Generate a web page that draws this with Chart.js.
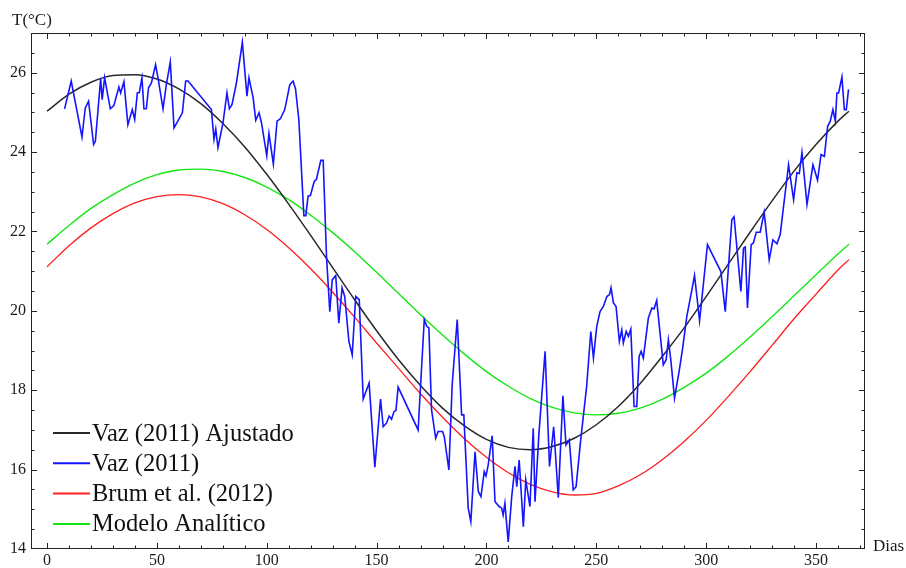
<!DOCTYPE html>
<html>
<head>
<meta charset="utf-8">
<script src="https://cdn.jsdelivr.net/npm/chart.js@4.4.1/dist/chart.umd.min.js"></script>
<style>
  html, body { margin: 0; padding: 0; background: #fff; }
  #wrap { width: 906px; height: 568px; }
</style>
</head>
<body>
<div id="wrap"><canvas id="myChart"></canvas></div>
<script>
// eixos
const xTickValues = [0, 50, 100, 150, 200, 250, 300, 350];
const yTickValues = [14, 16, 18, 20, 22, 24, 26];

// curvas suaves (lidas a cada 10 dias)
const fitDays = [0, 10, 20, 30, 40, 50, 60, 70, 80, 90, 100, 110, 120, 130, 140, 150, 160, 170, 180,
	190, 200, 210, 220, 230, 240, 250, 260, 270, 280, 290, 300, 310, 320, 330, 340, 350, 360, 365];
const ajustadoTemps = [25.03, 25.46, 25.76, 25.93, 25.95, 25.84, 25.59, 25.22, 24.72, 24.13, 23.44, 22.69,
	21.90, 21.09, 20.28, 19.50, 18.77, 18.12, 17.55, 17.10, 16.76, 16.56, 16.50, 16.58, 16.79, 17.13,
	17.59, 18.17, 18.85, 19.57, 20.36, 21.17, 21.98, 22.77, 23.52, 24.19, 24.78, 25.03];
const brumTemps = [21.11, 21.64, 22.09, 22.45, 22.72, 22.88, 22.93, 22.87, 22.70, 22.42, 22.05, 21.59,
	21.06, 20.47, 19.84, 19.19, 18.55, 17.91, 17.32, 16.78, 16.31, 15.92, 15.63, 15.44, 15.36, 15.40,
	15.59, 15.87, 16.25, 16.71, 17.24, 17.84, 18.47, 19.13, 19.80, 20.42, 21.03, 21.29];
const modeloTemps = [21.68, 22.15, 22.58, 22.93, 23.22, 23.43, 23.55, 23.57, 23.51, 23.36, 23.12, 22.80,
	22.41, 21.97, 21.49, 20.97, 20.44, 19.90, 19.39, 18.91, 18.47, 18.10, 17.79, 17.57, 17.43, 17.38,
	17.42, 17.55, 17.77, 18.07, 18.43, 18.86, 19.34, 19.85, 20.38, 20.91, 21.43, 21.68];

// dados medidos Vaz (2011)
const vazDays = [8.0, 11.0, 15.9, 17.4, 18.9, 21.2, 22.0, 24.4, 25.1, 26.2, 28.8, 30.4, 32.7, 33.5, 35.0,
	36.8, 38.8, 39.9, 41.1, 42.0, 43.2, 44.1, 45.2, 46.2, 47.5, 49.4, 50.5, 52.8, 54.3, 56.1, 57.8, 61.6,
	63.1, 64.2, 74.8, 76.0, 76.8, 77.8, 80.1, 81.9, 83.0, 84.2, 86.2, 88.9, 91.0, 91.9, 93.8, 95.0, 96.5,
	97.6, 100.0, 101.0, 103.0, 104.7, 106.2, 108.2, 110.5, 112.0, 113.1, 114.6, 116.9, 117.8, 118.8, 119.9,
	121.6, 122.6, 124.6, 125.7, 127.2, 128.7, 129.8, 131.4, 132.8, 134.3, 135.5, 137.4, 138.9, 140.5, 142.1,
	143.9, 146.6, 149.2, 151.8, 153.0, 154.5, 155.7, 156.8, 157.9, 158.8, 159.8, 168.9, 171.7, 172.8, 173.8,
	175.0, 176.9, 178.0, 180.0, 180.8, 182.9, 184.4, 186.7, 188.7, 189.7, 191.7, 192.9, 194.8, 196.3, 197.5,
	199.0, 199.8, 200.8, 202.6, 203.9, 205.8, 206.9, 207.6, 208.4, 209.9, 211.5, 213.0, 213.8, 214.9, 216.8,
	217.9, 219.8, 221.3, 222.1, 223.9, 226.7, 228.7, 230.6, 232.7, 234.8, 236.2, 237.7, 239.5, 240.8, 242.9,
	245.6, 247.5, 248.7, 250.2, 251.7, 253.2, 254.8, 256.0, 256.7, 257.8, 259.0, 260.5, 261.6, 262.3, 263.6,
	264.6, 265.7, 267.2, 268.4, 269.5, 270.4, 271.4, 273.7, 275.3, 276.3, 277.5, 278.7, 280.5, 281.8, 282.8,
	283.9, 285.6, 287.8, 289.4, 291.2, 293.5, 294.7, 295.8, 297.0, 300.6, 306.7, 308.7, 311.7, 312.7, 315.8,
	317.0, 317.8, 318.8, 320.5, 321.5, 322.8, 324.6, 326.4, 328.7, 330.4, 332.2, 333.7, 337.5, 339.8, 341.3,
	342.4, 343.6, 345.9, 348.6, 350.7, 352.3, 353.8, 355.3, 356.5, 357.7, 358.8, 359.5, 360.3, 361.8, 362.9,
	363.8, 364.8];
const vazTemps = [25.09, 25.79, 24.38, 25.11, 25.28, 24.19, 24.27, 25.85, 25.32, 25.87, 25.09, 25.17, 25.64,
	25.49, 25.77, 24.69, 25.07, 24.82, 25.49, 25.50, 25.87, 25.09, 25.09, 25.62, 25.74, 26.20, 25.87, 25.09,
	25.70, 26.27, 24.61, 24.99, 25.79, 25.79, 25.07, 24.32, 24.58, 24.11, 24.74, 25.49, 25.09, 25.20, 25.74,
	26.77, 25.41, 25.87, 25.37, 24.80, 24.99, 24.74, 23.91, 24.47, 23.70, 24.78, 24.84, 25.07, 25.70, 25.79,
	25.59, 24.82, 22.40, 22.40, 22.89, 22.91, 23.26, 23.31, 23.79, 23.79, 21.37, 19.98, 20.78, 20.89, 19.69,
	20.58, 20.36, 19.23, 18.89, 20.36, 20.28, 17.78, 18.18, 16.06, 17.78, 17.08, 17.17, 17.35, 17.27, 17.46,
	17.49, 18.08, 17.00, 19.78, 19.61, 19.57, 17.51, 16.79, 16.96, 16.96, 16.83, 15.99, 18.14, 19.78, 17.38,
	17.38, 15.03, 14.69, 16.45, 15.45, 15.32, 15.95, 15.84, 16.12, 16.85, 15.19, 15.07, 15.03, 14.86, 15.15,
	14.18, 15.32, 16.08, 15.57, 16.24, 14.56, 15.74, 15.07, 17.04, 15.19, 16.92, 18.98, 16.08, 17.08, 15.29,
	17.86, 16.62, 16.75, 15.49, 15.57, 16.75, 18.09, 19.48, 18.81, 19.61, 19.98, 20.11, 20.36, 20.41, 20.58,
	20.20, 20.11, 19.23, 19.52, 19.19, 19.48, 19.36, 19.54, 17.59, 17.59, 18.85, 18.98, 18.81, 19.82, 20.07,
	20.05, 20.26, 19.61, 18.64, 18.77, 19.27, 18.77, 17.80, 18.51, 19.10, 19.86, 20.53, 20.89, 20.36, 19.75,
	21.67, 20.99, 19.98, 22.30, 22.37, 20.49, 21.58, 21.61, 20.07, 21.67, 21.71, 21.98, 21.98, 22.48, 21.29,
	21.79, 21.69, 21.92, 23.68, 22.80, 23.48, 23.46, 23.99, 22.68, 23.68, 23.29, 23.94, 23.89, 24.65, 24.78,
	25.07, 24.78, 25.49, 25.49, 25.89, 25.07, 25.07, 25.58];

const serif = '"Liberation Serif", "DejaVu Serif", serif';

function toPoints(xs, ys) {
	return xs.map((d, i) => ({ x: d, y: ys[i] }));
}

// moldura com marcas para dentro, titulos dos eixos e legenda
const framePlugin = {
	id: 'frame',
	afterDraw(chart) {
		const ctx = chart.ctx;
		const a = chart.chartArea;
		const xs = chart.scales.x;
		const ys = chart.scales.y;
		ctx.save();
		ctx.strokeStyle = '#222';
		ctx.lineWidth = 1;
		ctx.strokeRect(a.left + 0.5, a.top + 0.5, a.right - a.left - 1, a.bottom - a.top - 1);
		ctx.beginPath();
		for (let d = 0; d <= 370; d += 10) {
			const px = Math.round(xs.getPixelForValue(d)) + 0.5;
			const len = d % 50 === 0 ? 6 : 3.5;
			ctx.moveTo(px, a.bottom); ctx.lineTo(px, a.bottom - len);
			ctx.moveTo(px, a.top); ctx.lineTo(px, a.top + len);
		}
		for (let t = 14.5; t < 27; t += 0.5) {
			const py = Math.round(ys.getPixelForValue(t)) + 0.5;
			const len = t % 2 === 0 ? 6 : 3.5;
			ctx.moveTo(a.left, py); ctx.lineTo(a.left + len, py);
			ctx.moveTo(a.right, py); ctx.lineTo(a.right - len, py);
		}
		ctx.stroke();

		ctx.fillStyle = '#1a1a1a';
		ctx.font = '17px ' + serif;
		ctx.textBaseline = 'alphabetic';
		ctx.textAlign = 'left';
		ctx.fillText('T(°C)', 12, 25);
		ctx.fillText('Dias', 873, 551);

		// legenda
		ctx.font = '24.5px ' + serif;
		chart.data.datasets.forEach((ds, i) => {
			const cy = 433 + i * 30.3;
			ctx.strokeStyle = ds.borderColor;
			ctx.lineWidth = 2;
			ctx.beginPath();
			ctx.moveTo(53, cy);
			ctx.lineTo(90, cy);
			ctx.stroke();
			ctx.fillStyle = '#111';
			ctx.fillText(ds.label, 92, cy + 7.5);
		});
		ctx.restore();
	}
};

window.addEventListener("load", function() {
	const ctx = document.getElementById('myChart').getContext('2d');

	new Chart(ctx, {
		type: 'line',
		data: {
			datasets: [
				{
					label: 'Vaz (2011) Ajustado',
					data: toPoints(fitDays, ajustadoTemps),
					borderColor: 'rgb(40, 40, 40)',
					borderWidth: 1.5,
					cubicInterpolationMode: 'monotone',
					order: 2
				},
				{
					label: 'Vaz (2011)',
					data: toPoints(vazDays, vazTemps),
					borderColor: 'rgb(20, 20, 255)',
					borderWidth: 1.6,
					tension: 0,
					order: 1
				},
				{
					label: 'Brum et al. (2012)',
					data: toPoints(fitDays, brumTemps),
					borderColor: 'rgb(255, 30, 30)',
					borderWidth: 1.3,
					cubicInterpolationMode: 'monotone',
					order: 3
				},
				{
					label: 'Modelo Analítico',
					data: toPoints(fitDays, modeloTemps),
					borderColor: 'rgb(20, 230, 20)',
					borderWidth: 1.4,
					cubicInterpolationMode: 'monotone',
					order: 4
				}
			]
		},
		options: {
			responsive: true,
			maintainAspectRatio: false,
			animation: false,
			layout: { padding: { left: 0, top: 33, right: 41, bottom: 0 } },
			elements: { point: { radius: 0 } },
			plugins: {
				legend: { display: false },
				tooltip: { enabled: false }
			},
			scales: {
				x: {
					type: 'linear',
					min: -7.3,
					max: 372.3,
					afterBuildTicks: (s) => { s.ticks = xTickValues.map(v => ({ value: v })); },
					afterFit: (s) => { s.height = 19; },
					grid: { display: false, drawTicks: false },
					border: { display: false },
					ticks: {
						autoSkip: false,
						maxRotation: 0,
						padding: 2,
						color: '#1a1a1a',
						font: { family: serif, size: 16 }
					}
				},
				y: {
					type: 'linear',
					min: 14,
					max: 27,
					afterBuildTicks: (s) => { s.ticks = yTickValues.map(v => ({ value: v })); },
					afterFit: (s) => { s.width = 31; },
					grid: { display: false, drawTicks: false },
					border: { display: false },
					ticks: {
						autoSkip: false,
						padding: 5,
						color: '#1a1a1a',
						font: { family: serif, size: 16 }
					}
				}
			}
		},
		plugins: [framePlugin]
	});
})
</script>
</body>
</html>
